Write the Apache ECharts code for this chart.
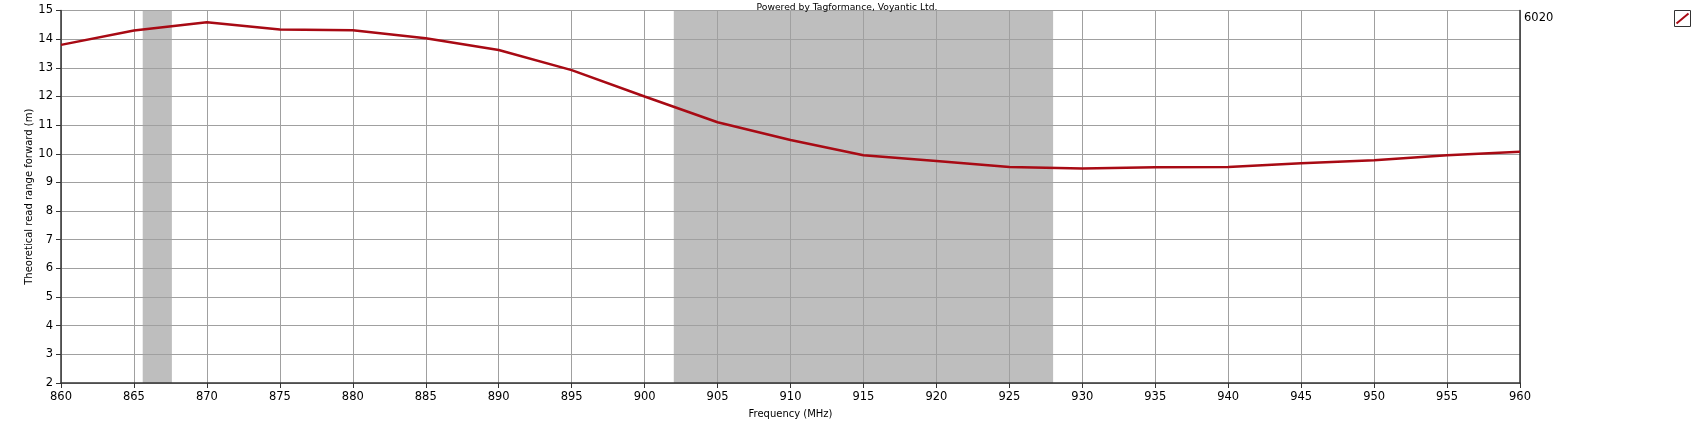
<!DOCTYPE html>
<html>
<head>
<meta charset="utf-8">
<script src="https://cdn.jsdelivr.net/npm/echarts@6/dist/echarts.min.js"></script>
<style>
html,body{margin:0;padding:0;background:#fff;}
#chart{width:1704px;height:435px;}
</style>
</head>
<body>
<div id="chart"></div>
<script>
const frequencies = [860,865,870,875,880,885,890,895,900,905,910,915,920,925,930,935,940,945,950,955,960];
const readRange6020 = [13.80,14.30,14.59,14.34,14.31,14.03,13.62,12.92,12.00,11.10,10.48,9.95,9.75,9.54,9.49,9.53,9.54,9.67,9.77,9.95,10.07];
const bands = [[865.6,867.6],[902,928]];
const seriesName = '6020';
const xTitle = 'Frequency (MHz)';
const yTitle = 'Theoretical read range forward (m)';
const credit = 'Powered by Tagformance, Voyantic Ltd.';

const FONT = 'DejaVu Sans';
const LINE = '#a80a14';
const chart = echarts.init(document.getElementById('chart'), null, {renderer:'canvas'});
chart.setOption({
  animation:false,
  backgroundColor:'#ffffff',
  textStyle:{fontFamily:FONT},
  title:{text:credit, left:842, top:-2, textAlign:'center',
    textStyle:{fontFamily:FONT,fontSize:9.2,fontWeight:'normal',color:'#000'}},
  grid:{left:61, right:184, top:10.5, bottom:52, show:false},
  legend:{show:false},
  xAxis:{
    type:'value', min:860, max:960, interval:5, z:3,
    name:xTitle, nameLocation:'middle', nameGap:26, nameMoveOverlap:false,
    nameTextStyle:{fontFamily:FONT,fontSize:10,color:'#000'},
    axisLine:{show:true,onZero:false,lineStyle:{color:'#333',width:1.5}},
    axisTick:{show:true,length:5,lineStyle:{color:'#333'}},
    axisLabel:{margin:8,fontFamily:FONT,fontSize:11.5,color:'#000'},
    splitLine:{show:true,lineStyle:{color:'#a0a0a0',width:1}}
  },
  yAxis:[{
    type:'value', min:2, max:15, interval:1, z:3,
    name:yTitle, nameLocation:'middle', nameGap:27, nameMoveOverlap:false,
    nameTextStyle:{fontFamily:FONT,fontSize:10,color:'#000'},
    axisLine:{show:true,lineStyle:{color:'#333',width:1.5}},
    axisTick:{show:true,length:5,lineStyle:{color:'#333'}},
    axisLabel:{margin:8,fontFamily:FONT,fontSize:11.5,color:'#000'},
    splitLine:{show:true,lineStyle:{color:'#a0a0a0',width:1}}
  },{
    type:'value', min:2, max:15, interval:1, position:'right', z:3,
    axisLine:{show:true,lineStyle:{color:'#333',width:1.5}},
    axisTick:{show:false}, axisLabel:{show:false}, splitLine:{show:false}
  }],
  series:[
    {
      type:'line', name:'bands', data:[], z:1, silent:true,
      markArea:{silent:true, itemStyle:{color:'#bebebe',opacity:1},
        data:bands.map(b=>[{xAxis:b[0]},{xAxis:b[1]}])}
    },
    {
      type:'line', name:seriesName, z:5,
      data:frequencies.map((f,i)=>[f,readRange6020[i]]),
      showSymbol:false, symbol:'none',
      lineStyle:{color:LINE,width:2.5},
      itemStyle:{color:LINE}
    }
  ],
  graphic:[
    {type:'text', left:1524, top:12, style:{text:seriesName, font:'11.5px "DejaVu Sans"', fill:'#000'}},
    {type:'group', left:1674, top:10, children:[
      {type:'rect', shape:{x:0.5,y:0.5,width:16,height:16}, style:{fill:'#fff',stroke:'#333',lineWidth:1}},
      {type:'line', shape:{x1:2.5,y1:13.5,x2:14.5,y2:3.5}, style:{stroke:LINE,lineWidth:2}}
    ]}
  ]
});
</script>
</body>
</html>
